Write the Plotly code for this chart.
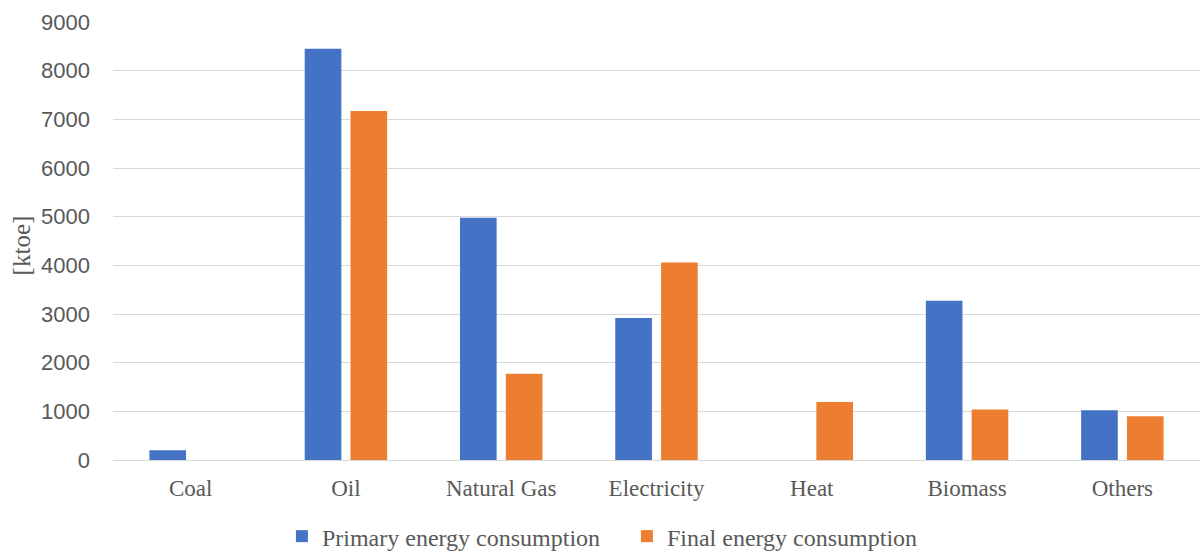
import plotly.graph_objects as go

# Energy consumption by carrier, in ktoe
categories = ["Coal", "Oil", "Natural Gas", "Electricity", "Heat", "Biomass", "Others"]
primary = [200, 8450, 4980, 2920, 0, 3270, 1020]
final = [0, 7170, 1770, 4060, 1190, 1040, 900]
y_ticks = [0, 1000, 2000, 3000, 4000, 5000, 6000, 7000, 8000, 9000]

BLUE = "#4472C4"
ORANGE = "#ED7D31"
GRID = "#D9D9D9"
TEXT = "#595959"
SERIF = "Liberation Serif, Times New Roman, serif"
SANS = "Liberation Sans, Arial, sans-serif"

fig = go.Figure()
fig.add_trace(go.Bar(
    x=categories, y=primary, name="Primary energy consumption",
    marker=dict(color=BLUE, line=dict(width=0)),
))
fig.add_trace(go.Bar(
    x=categories, y=final, name="Final energy consumption",
    marker=dict(color=ORANGE, line=dict(width=0)),
))

fig.update_layout(
    width=1201, height=552,
    margin=dict(l=113, r=1, t=22, b=92),
    paper_bgcolor="white", plot_bgcolor="white",
    barmode="group", bargap=0.41, bargroupgap=0.2,
    showlegend=True,
    legend=dict(
        orientation="h", xref="container", yref="container",
        x=0.522, xanchor="center", y=0.028, yanchor="middle",
        font=dict(family=SERIF, size=24, color=TEXT),
        itemwidth=30, entrywidth=300, tracegroupgap=0,
    ),
    xaxis=dict(
        showgrid=False, showline=False, ticks="",
        tickfont=dict(family=SERIF, size=23, color=TEXT),
        ticklabelstandoff=12,
    ),
    yaxis=dict(
        range=[0, 9000], tickvals=y_ticks,
        showgrid=True, gridcolor=GRID, gridwidth=1.3,
        zeroline=True, zerolinecolor=GRID, zerolinewidth=1.3,
        showline=False, ticks="",
        tickfont=dict(family=SANS, size=22, color=TEXT),
        ticklabelstandoff=22,
    ),
    annotations=[dict(
        text="[ktoe]", textangle=-90, showarrow=False,
        xref="paper", yref="paper", x=(21 - 113) / 1087, y=0.49,
        xanchor="center", yanchor="middle",
        font=dict(family=SERIF, size=25, color=TEXT),
    )],
)

fig.write_html("out.html")
